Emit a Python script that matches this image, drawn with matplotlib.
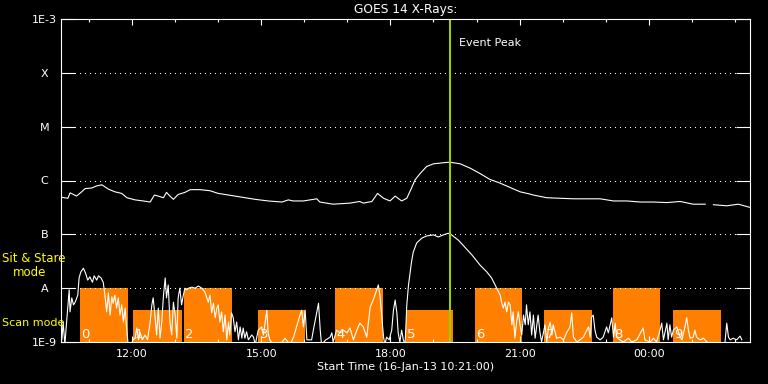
import numpy as np
import matplotlib
matplotlib.use("Agg")
import matplotlib.pyplot as plt
from matplotlib.ticker import FixedLocator

# ---------------- data ----------------
title = "GOES 14 X-Rays:"
xlabel = "Start Time (16-Jan-13 10:21:00)"
t_start, t_end = 10.35, 26.35          # hours (10:21 -> 02:21 next day)
ytick_vals = [1e-9, 1e-8, 1e-7, 1e-6, 1e-5, 1e-4, 1e-3]
ytick_labels = ["1E-9", "A", "B", "C", "M", "X", "1E-3"]
class_levels = [1e-8, 1e-7, 1e-6, 1e-5, 1e-4]
xtick_hours = [12, 15, 18, 21, 24]
xtick_labels = ["12:00", "15:00", "18:00", "21:00", "00:00"]
xminor_hours = [11, 13, 14, 16, 17, 19, 20, 22, 23, 25, 26]

event_peak = 19.38

# IRIS observing blocks (0..9)
bar_start = [10.79, 12.02, 13.21, 14.93, 16.71, 18.36, 19.96, 21.57, 23.17, 24.56]
bar_end = [11.91, 13.16, 14.32, 16.02, 17.83, 19.45, 21.06, 22.68, 24.26, 25.68]
bar_mode = ["stare", "scan", "stare", "scan", "stare", "scan", "stare", "scan", "stare", "scan"]
mode_top = {"stare": 1e-8, "scan": 4e-9}

# GOES long channel (1-8 A), log10 flux
long_t = [10.35, 10.51, 10.56, 10.64, 10.71, 10.83, 10.91, 11.06, 11.18, 11.30,
          11.45, 11.60, 11.76, 11.88, 12.07, 12.26, 12.42, 12.52, 12.61, 12.73,
          12.80, 12.88, 12.96, 13.07, 13.23, 13.35, 13.58, 13.81, 14.00, 14.24,
          14.55, 14.86, 15.16, 15.48, 15.63, 15.74, 15.98, 16.29, 16.36, 16.67,
          17.06, 17.29, 17.37, 17.57, 17.70, 17.84, 17.99, 18.11, 18.26, 18.38,
          18.49, 18.57, 18.69, 18.84, 19.00, 19.23, 19.38, 19.62, 19.85, 20.08,
          20.31, 20.55, 20.78, 21.01, 21.23, 21.32, 21.63, 21.94, 22.25, 22.56,
          22.87, 23.18, 23.49, 23.80, 24.11, 24.42, 24.73, 25.03, 25.31, 25.40,
          25.50, 25.81, 26.08, 26.35]
long_log = [-6.31, -6.33, -6.23, -6.26, -6.29, -6.21, -6.15, -6.14, -6.10, -6.08,
            -6.16, -6.21, -6.24, -6.32, -6.36, -6.38, -6.40, -6.27, -6.29, -6.32,
            -6.22, -6.29, -6.35, -6.26, -6.22, -6.17, -6.17, -6.19, -6.24, -6.27,
            -6.31, -6.35, -6.38, -6.40, -6.36, -6.38, -6.38, -6.34, -6.40, -6.44,
            -6.42, -6.39, -6.42, -6.39, -6.24, -6.33, -6.38, -6.29, -6.38, -6.33,
            -6.14, -5.99, -5.87, -5.74, -5.69, -5.67, -5.66, -5.69, -5.77, -5.87,
            -5.98, -6.05, -6.13, -6.21, -6.25, -6.27, -6.32, -6.33, -6.34, -6.34,
            -6.34, -6.38, -6.38, -6.40, -6.40, -6.41, -6.39, -6.44, -6.44, np.nan,
            -6.45, -6.47, -6.44, -6.50]

# GOES short channel (0.5-4 A), log10 flux
short_t = [10.37, 10.40, 10.44, 10.48, 10.54, 10.56, 10.60, 10.64, 10.68, 10.74,
           10.77, 10.81, 10.87, 10.92, 10.97, 11.02, 11.08, 11.12, 11.18, 11.22,
           11.28, 11.33, 11.37, 11.41, 11.45, 11.49, 11.53, 11.56, 11.60, 11.64,
           11.68, 11.72, 11.76, 11.80, 11.84, 11.88, 11.91, 11.98, 12.02, 12.07,
           12.11, 12.15, 12.18, 12.24, 12.30, 12.36, 12.42, 12.46, 12.49, 12.53,
           12.57, 12.61, 12.65, 12.69, 12.73, 12.77, 12.80, 12.84, 12.88, 12.92,
           12.96, 13.00, 13.04, 13.07, 13.11, 13.15, 13.19, 13.23, 13.27, 13.31,
           13.39, 13.46, 13.54, 13.62, 13.69, 13.77, 13.81, 13.85, 13.89, 13.93,
           13.97, 14.00, 14.04, 14.08, 14.12, 14.16, 14.20, 14.24, 14.27, 14.31,
           14.35, 14.39, 14.43, 14.47, 14.51, 14.55, 14.58, 14.62, 14.66, 14.70,
           14.78, 14.82, 14.86, 14.93, 15.01, 15.05, 15.13, 15.16, 15.20, 15.28,
           15.44, 15.55, 15.67, 15.75, 15.82, 15.90, 15.94, 15.98, 16.02, 16.06,
           16.17, 16.21, 16.29, 16.33, 16.37, 16.40, 16.50, 16.60, 16.64, 16.67,
           16.75, 16.83, 16.91, 16.99, 17.06, 17.14, 17.22, 17.29, 17.37, 17.45,
           17.53, 17.60, 17.68, 17.72, 17.76, 17.80, 17.84, 17.87, 17.91, 17.97,
           18.03, 18.07, 18.11, 18.15, 18.18, 18.22, 18.26, 18.30, 18.34, 18.38,
           18.42, 18.46, 18.49, 18.53, 18.61, 18.73, 18.84, 19.00, 19.11, 19.23,
           19.34, 19.42, 19.58, 19.73, 19.89, 20.08, 20.24, 20.35, 20.43, 20.51,
           20.55, 20.58, 20.62, 20.66, 20.70, 20.74, 20.78, 20.82, 20.85, 20.89,
           20.93, 20.97, 21.01, 21.05, 21.09, 21.13, 21.16, 21.20, 21.24, 21.28,
           21.32, 21.36, 21.40, 21.43, 21.47, 21.51, 21.59, 21.63, 21.67, 21.71,
           21.75, 21.78, 21.86, 21.94, 22.02, 22.09, 22.17, 22.21, 22.25, 22.33,
           22.40, 22.48, 22.56, 22.60, 22.64, 22.67, 22.71, 22.75, 22.79, 22.87,
           22.94, 23.02, 23.06, 23.14, 23.18, 23.22, 23.25, 23.33, 23.41, 23.53,
           23.60, 23.72, 23.87, 23.91, 24.03, 24.11, 24.18, 24.26, 24.30, 24.34,
           24.42, 24.45, 24.49, 24.53, 24.57, 24.65, 24.73, 24.77, 24.84, 24.88,
           24.92, 24.96, 25.03, 25.07, 25.11, 25.19, 25.27, 25.35, 25.47, 25.60,
           25.77, 25.81, 25.85, 25.89, 25.96, 26.04, 26.12, 26.16]
short_log = [-8.96, -8.63, -9.05, -8.63, -8.03, -8.44, -8.18, -8.31, -8.26, -8.13,
             -7.81, -7.70, -7.63, -7.72, -7.85, -7.79, -7.89, -7.77, -7.85, -7.77,
             -7.81, -7.89, -8.13, -8.44, -8.09, -8.50, -8.16, -8.28, -8.13, -8.37,
             -8.18, -8.50, -8.31, -8.63, -8.37, -8.81, -9.05, -9.05, -8.96, -8.93,
             -8.74, -8.96, -8.81, -8.96, -8.87, -8.96, -8.63, -8.31, -8.18, -8.50,
             -8.87, -8.37, -8.93, -8.63, -8.13, -7.81, -8.18, -7.94, -8.63, -8.87,
             -8.26, -8.50, -8.93, -8.18, -8.00, -8.31, -8.13, -8.00, -8.03, -8.00,
             -7.98, -8.00, -7.96, -8.00, -8.07, -8.26, -8.13, -8.46, -8.28, -8.55,
             -8.37, -8.31, -8.63, -8.44, -8.81, -8.50, -8.96, -8.63, -8.87, -8.46,
             -8.55, -8.81, -8.63, -8.96, -8.72, -8.93, -8.74, -8.93, -8.81, -8.96,
             -8.87, -8.91, -9.05, -8.78, -8.72, -8.87, -8.41, -8.83, -8.96, -9.05,
             -9.05, -8.93, -9.05, -8.91, -8.72, -8.50, -8.41, -8.72, -8.41, -8.96,
             -8.96, -8.78, -8.44, -8.28, -8.78, -9.05, -8.96, -8.91, -8.83, -9.00,
             -8.78, -8.83, -8.78, -8.83, -8.74, -8.96, -8.78, -8.65, -8.72, -8.91,
             -8.35, -8.22, -8.03, -7.94, -8.16, -8.54, -8.91, -9.05, -8.91, -8.96,
             -8.78, -8.41, -8.22, -8.46, -8.83, -9.00, -8.78, -8.96, -9.05, -8.31,
             -7.94, -7.70, -7.51, -7.33, -7.16, -7.07, -7.03, -7.01, -7.05, -7.01,
             -6.98, -7.01, -7.11, -7.24, -7.38, -7.57, -7.70, -7.81, -7.94, -8.07,
             -8.13, -8.26, -8.37, -8.26, -8.44, -8.26, -8.31, -8.68, -8.44, -8.93,
             -8.63, -8.44, -8.68, -8.87, -8.50, -8.68, -8.31, -8.68, -8.44, -8.87,
             -8.50, -8.93, -8.68, -8.50, -8.81, -9.00, -8.68, -9.00, -8.74, -8.63,
             -8.87, -8.68, -8.93, -8.91, -8.96, -8.83, -8.72, -8.46, -8.91, -9.00,
             -8.96, -8.91, -8.78, -8.72, -8.91, -8.54, -8.50, -8.78, -8.91, -8.96,
             -8.91, -8.72, -8.83, -8.55, -8.91, -8.65, -8.91, -8.96, -9.00, -8.93,
             -9.00, -8.96, -8.74, -8.96, -9.00, -8.93, -9.00, -8.78, -8.65, -8.96,
             -8.65, -8.96, -8.68, -8.91, -8.78, -8.72, -8.91, -8.96, -8.72, -8.55,
             -8.78, -8.93, -8.91, -8.78, -8.91, -8.96, -8.93, -9.00, -9.05, np.nan,
             -9.00, -8.65, -8.91, -8.96, -8.93, -8.96, -8.89, -8.96]

# ---------------- style ----------------
WHITE = "white"
ORANGE = "#ff8000"
GREEN = "#a0cc00"
YELLOW = "#ffff00"
FS = 8

plt.rcParams["font.family"] = ["DejaVu Sans"]

fig = plt.figure(figsize=(7.68, 3.84), dpi=100, facecolor="black")
ax = fig.add_axes([61 / 768, 42 / 384, 689 / 768, 323 / 384])
ax.set_facecolor("black")
ax.set_yscale("log")
ax.set_xlim(t_start, t_end)
ax.set_ylim(1e-9, 1e-3)

# bars
for i, (s, e, m) in enumerate(zip(bar_start, bar_end, bar_mode)):
    ax.bar(s, mode_top[m] - 1e-10, width=e - s, bottom=1e-10, align="edge",
           color=ORANGE, linewidth=0, zorder=1)
    ax.text(s + 0.03, 10 ** -8.93, str(i), color=WHITE, fontsize=9.5,
            ha="left", va="baseline", zorder=2)

# class grid lines (dotted)
for lvl in class_levels:
    ax.axhline(lvl, xmin=14 / 689, xmax=1 - 14 / 689, color=WHITE, lw=0.72,
               ls=(0, (1, 5)), zorder=2, antialiased=False)

# GOES curves
ax.plot(long_t, 10 ** np.array(long_log), color=WHITE, lw=0.8, zorder=3)
ax.plot(short_t, 10 ** np.array(short_log), color=WHITE, lw=0.8, zorder=3)

# event peak line
ax.axvline(event_peak, color=GREEN, lw=1.5, zorder=4)
ax.annotate("Event Peak", xy=(event_peak, 0.926), xycoords=("data", "axes fraction"),
            xytext=(6.5, 0), textcoords="offset points", color=WHITE,
            fontsize=FS, ha="left", va="center")

# spines / ticks
for sp in ax.spines.values():
    sp.set_color(WHITE)
    sp.set_linewidth(0.8)
    sp.set_zorder(5)

ax.yaxis.set_major_locator(FixedLocator(ytick_vals))
ax.set_yticklabels(ytick_labels)
ax.yaxis.set_minor_locator(FixedLocator([]))
ax.tick_params(axis="y", which="major", direction="in", length=10, width=0.8,
               colors=WHITE, left=True, right=True, labelsize=FS, pad=12)
for lab in ax.get_yticklabels():
    lab.set_horizontalalignment("center")

ax.xaxis.set_major_locator(FixedLocator(xtick_hours))
ax.set_xticklabels(xtick_labels)
ax.xaxis.set_minor_locator(FixedLocator(xminor_hours))
ax.tick_params(axis="x", which="major", direction="in", length=4.5, width=0.8,
               colors=WHITE, top=True, bottom=True, labelsize=FS, pad=5)
ax.tick_params(axis="x", which="minor", direction="in", length=2.3, width=0.8,
               colors=WHITE, top=True, bottom=True)

ax.set_title(title, color=WHITE, fontsize=8.8, pad=4)
ax.set_xlabel(xlabel, color=WHITE, fontsize=FS, labelpad=2)

# mode labels on the left
fig.text(2 / 768, 1 - 259 / 384, "Sit & Stare", color=YELLOW, fontsize=8.5,
         ha="left", va="center")
fig.text(13 / 768, 1 - 272 / 384, "mode", color=YELLOW, fontsize=8.5,
         ha="left", va="center")
fig.text(2 / 768, 1 - 323 / 384, "Scan mode", color=YELLOW, fontsize=FS,
         ha="left", va="center")

fig.savefig("out.png", dpi=100, facecolor="black")
